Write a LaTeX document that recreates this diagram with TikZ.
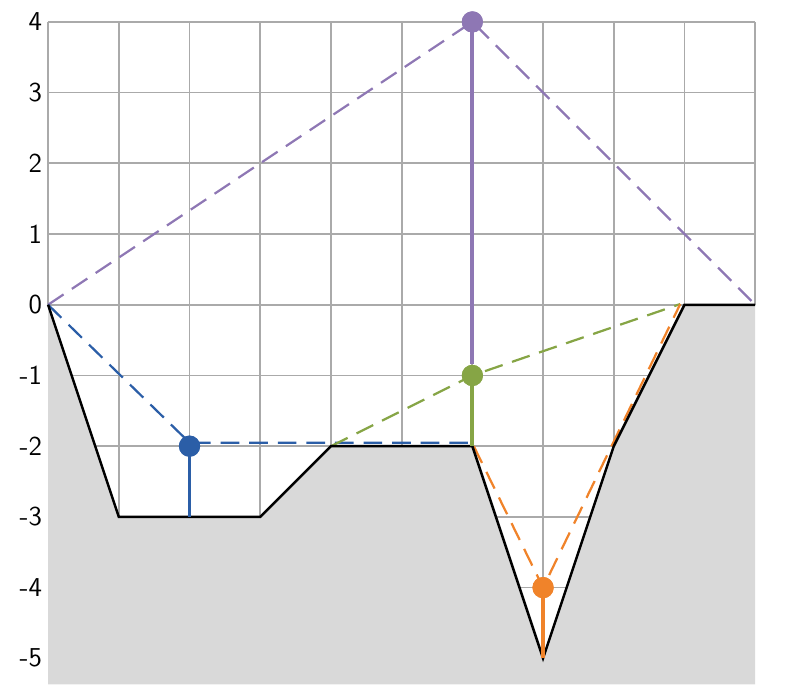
\documentclass[tikz,border=0pt]{standalone}
\usepackage{tikz}
\definecolor{cblue}{HTML}{2B5EA7}
\definecolor{cgreen}{HTML}{86A545}
\definecolor{corange}{HTML}{F0832A}
\definecolor{cpurple}{HTML}{8E77B4}
\definecolor{cgrid}{HTML}{AAAAAA}
\definecolor{cfill}{HTML}{D9D9D9}
\tikzset{
  gridline/.style={draw=cgrid, line width=0.7pt},
  terrain/.style={draw=black, line width=1pt, line join=miter},
  dsh/.style={line width=0.9pt, dash pattern=on 7.5pt off 4pt},
  stem/.style={line width=1.6pt},
  dot/.style={circle, inner sep=0pt, minimum size=0.3cm},
  ylab/.style={anchor=east, inner sep=0pt, font=\sffamily\fontsize{11}{13}\selectfont}
}
\begin{document}
\begin{tikzpicture}
\useasboundingbox (-0.68,-5.37) rectangle (10.69,4.31);
% coordinates
\coordinate (t0) at (0,0);
\coordinate (t1) at (1,-3);
\coordinate (t2) at (2,-3);
\coordinate (t3) at (3,-3);
\coordinate (t4) at (4,-2);
\coordinate (t5) at (6,-2);
\coordinate (t6) at (7,-5);
\coordinate (t7) at (8,-2);
\coordinate (t8) at (9,0);
\coordinate (t9) at (10,0);
\coordinate (bl) at (6,-1.95);
\coordinate (bs) at (2,-1.95);
\coordinate (ot) at (8.94,0.01);
\coordinate (os) at (6.02,-2);
% grid, only above the ground
\begin{scope}
\clip (-0.1,4.1) -- (-0.1,0) -- (t0) -- (t1) -- (t3) -- (t4) -- (t5) -- (t6) -- (t7) -- (t8) -- (t9) -- (10.1,0) -- (10.1,4.1) -- cycle;
\draw[gridline] (0,-5) grid (10,4);
\end{scope}
% terrain fill
\fill[cfill] (t0) -- (t1) -- (t3) -- (t4) -- (t5) -- (t6) -- (t7) -- (t8) -- (t9) -- (10,-5.37) -- (0,-5.37) -- cycle;
% dashed lines
\draw[dsh, cpurple] (t0) -- (6,4) -- (t9);
\draw[dsh, cblue] (t0) -- (bs) -- (bl);
\draw[dsh, cgreen] (t4) -- (6,-1) -- (ot);
\draw[dsh, corange] (os) -- (7,-4) -- (ot);
% terrain line
\draw[terrain] (t0) -- (t1) -- (t3) -- (t4) -- (t5) -- (t6) -- (t7) -- (t8) -- (t9);
% dots
\node[dot, fill=cblue] (pb) at (2,-2) {};
\node[dot, fill=cgreen] (pg) at (6,-1) {};
\node[dot, fill=corange] (po) at (7,-4) {};
\node[dot, fill=cpurple] (pp) at (6,4) {};
% stems
\draw[stem, cblue] (t2) -- (pb.center);
\draw[stem, cgreen] (t5) -- (pg.center);
\draw[stem, corange] (t6) -- (po.center);
\draw[stem, cpurple] (pg.north) -- (pp.center);
\node[dot, fill=cblue] at (2,-2) {};
\node[dot, fill=cgreen] at (6,-1) {};
\node[dot, fill=corange] at (7,-4) {};
\node[dot, fill=cpurple] at (6,4) {};
% labels
\foreach \y in {4,3,2,1,0} \node[ylab] (l\y) at (-0.08,\y) {\y};
\foreach \y/\n in {-1/m1,-2/m2,-3/m3,-4/m4,-5/m5} \node[ylab] (l\n) at (-0.08,\y) {\y};
\end{tikzpicture}
\end{document}
